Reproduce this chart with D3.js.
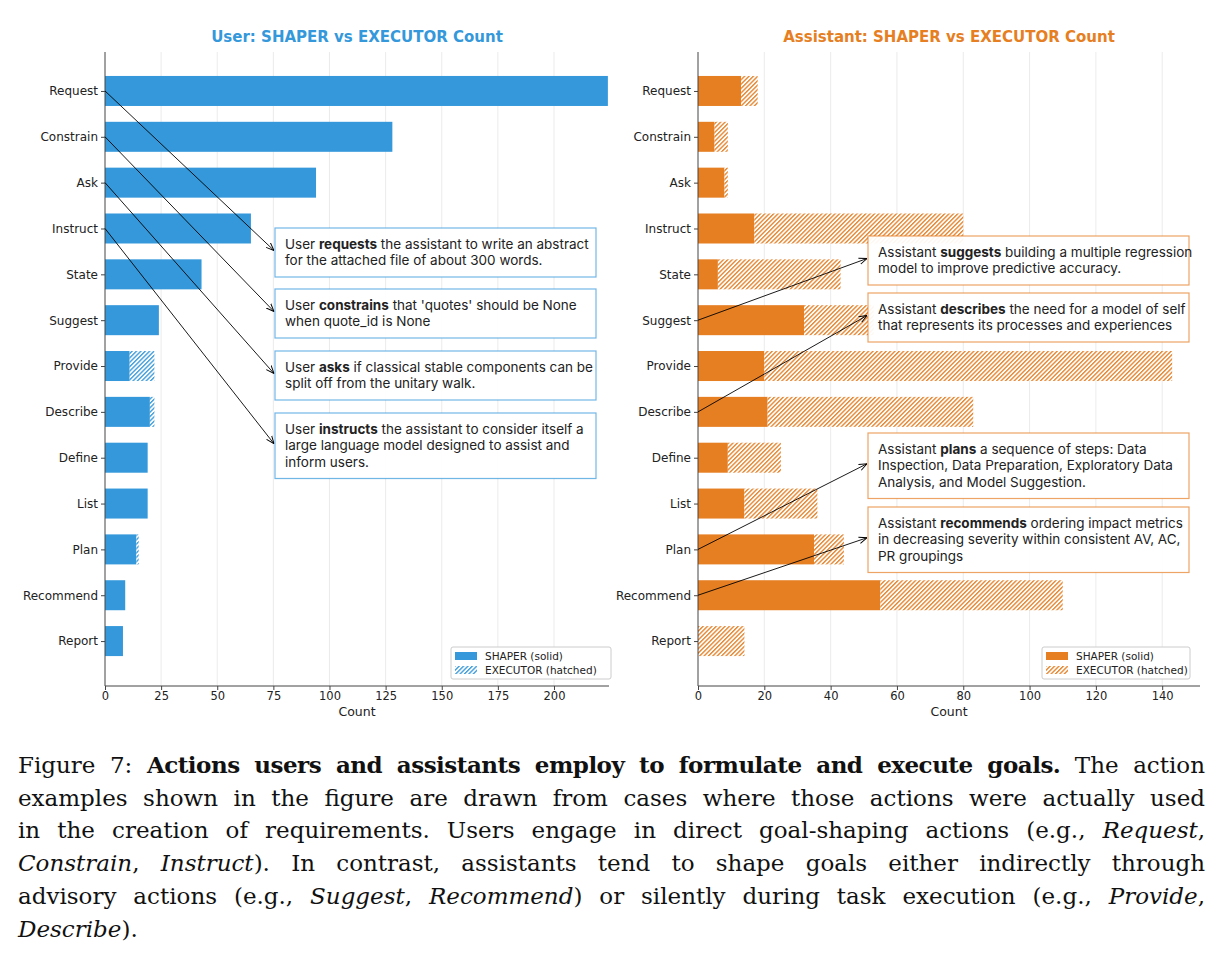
<!DOCTYPE html>
<meta charset="utf-8">
<style>
body { margin: 0; background: #fff; }
svg { position: absolute; left: 0; top: 0; }
.tick text { font-family: "DejaVu Sans", sans-serif; font-size: 12px; fill: #222; }
.xaxis .tick text { font-size: 11.5px; }
.axis path, .axis line { stroke: #444; }
.grid line { stroke: #e6e6e6; stroke-width: 0.8; }
.title { font-family: "DejaVu Sans", sans-serif; font-size: 15px; font-weight: bold; }
.xlabel { font-family: "DejaVu Sans", sans-serif; font-size: 12.5px; fill: #222; }
.note { font-family: Inter, sans-serif; font-size: 13.5px; fill: #222; }
.legend-text { font-family: "DejaVu Sans", sans-serif; font-size: 10.5px; fill: #222; }
.arrow { fill: none; stroke: #000; stroke-width: 0.9; }
#caption {
  position: absolute; left: 18px; top: 749px; width: 1187px;
  font-family: "DejaVu Serif", serif; font-size: 23px; line-height: 32.7px; color: #111;
}
#caption div { text-align: justify; text-align-last: justify; white-space: nowrap; }
#caption div.last { text-align-last: left; }
#caption b { letter-spacing: -0.5px; }
</style>
<svg width="1224" height="962"></svg>
<div id="caption">
  <div>Figure 7: <b>Actions users and assistants employ to formulate and execute goals.</b> The action</div>
  <div>examples shown in the figure are drawn from cases where those actions were actually used</div>
  <div>in the creation of requirements. Users engage in direct goal-shaping actions (e.g., <i>Request</i>,</div>
  <div><i>Constrain</i>, <i>Instruct</i>). In contrast, assistants tend to shape goals either indirectly through</div>
  <div>advisory actions (e.g., <i>Suggest</i>, <i>Recommend</i>) or silently during task execution (e.g., <i>Provide</i>,</div>
  <div class="last"><i>Describe</i>).</div>
</div>

<script src="https://d3js.org/d3.v7.min.js"></script>
<script>

var categories = ["Request", "Constrain", "Ask", "Instruct", "State", "Suggest", "Provide",
                  "Describe", "Define", "List", "Plan", "Recommend", "Report"];

var userShaper   = [224, 128, 94, 65, 43, 24, 11, 20, 19, 19, 14, 9, 8];
var userExecutor = [0, 0, 0, 0, 0, 0, 11, 2, 0, 0, 1, 0, 0];

var asstShaper   = [13, 5, 8, 17, 6, 32, 20, 21, 9, 14, 35, 55, 0];
var asstExecutor = [5, 4, 1, 63, 37, 21, 123, 62, 16, 22, 9, 55, 14];

var userTicks = [0, 25, 50, 75, 100, 125, 150, 175, 200];
var asstTicks = [0, 20, 40, 60, 80, 100, 120, 140];

// example notes: [category, lines], each line is [plain, bold, plain]
var userNotes = [
  ["Request", [["User ", "requests", " the assistant to write an abstract"], ["for the attached file of about 300 words."]]],
  ["Constrain", [["User ", "constrains", " that 'quotes' should be None"], ["when quote_id is None"]]],
  ["Ask", [["User ", "asks", " if classical stable components can be"], ["split off from the unitary walk."]]],
  ["Instruct", [["User ", "instructs", " the assistant to consider itself a"], ["large language model designed to assist and"], ["inform users."]]]
];
var asstNotes = [
  ["Suggest", [["Assistant ", "suggests", " building a multiple regression"], ["model to improve predictive accuracy."]]],
  ["Describe", [["Assistant ", "describes", " the need for a model of self"], ["that represents its processes and experiences"]]],
  ["Plan", [["Assistant ", "plans", " a sequence of steps: Data"], ["Inspection, Data Preparation, Exploratory Data"], ["Analysis, and Model Suggestion."]]],
  ["Recommend", [["Assistant ", "recommends", " ordering impact metrics"], ["in decreasing severity within consistent AV, AC,"], ["PR groupings"]]]
];

var svg = d3.select("svg");
var defs = svg.append("defs");

function hatch(id, color) {
  var s = 3.1;
  var p = defs.append("pattern")
      .attr("id", id)
      .attr("patternUnits", "userSpaceOnUse")
      .attr("width", s).attr("height", s)
      .attr("patternTransform", "rotate(45)");
  p.append("rect").attr("width", s).attr("height", s).attr("fill", "#fff");
  p.append("line").attr("x1", 0.7).attr("y1", 0).attr("x2", 0.7).attr("y2", s)
      .attr("stroke", color).attr("stroke-width", 1.3);
}

defs.append("marker")
    .attr("id", "head")
    .attr("viewBox", "0 0 10 10")
    .attr("refX", 10).attr("refY", 5)
    .attr("markerWidth", 8).attr("markerHeight", 8)
    .attr("markerUnits", "userSpaceOnUse")
    .attr("orient", "auto")
  .append("path")
    .attr("d", "M0,1 L10,5 L0,9")
    .attr("fill", "none").attr("stroke", "#000").attr("stroke-width", 1.2);

var y = d3.scaleLinear().domain([-0.85, 12.98]).range([52, 686]);
var barH = 30;

function panel(opt) {
  var x = d3.scaleLinear().domain([0, opt.max]).range([opt.left, opt.right]);
  hatch(opt.id, opt.color);
  var g = svg.append("g");

  g.append("g").attr("class", "grid")
    .selectAll("line").data(opt.ticks.slice(1)).join("line")
      .attr("x1", x).attr("x2", x).attr("y1", 52).attr("y2", 686);

  var rows = categories.map(function(c, i) {
    return {cat: c, s: opt.shaper[i], e: opt.executor[i]};
  });

  g.selectAll(".solid").data(rows).join("rect")
      .attr("x", x(0))
      .attr("y", function(d) { return y(categories.indexOf(d.cat)) - barH / 2; })
      .attr("width", function(d) { return x(d.s) - x(0); })
      .attr("height", barH)
      .attr("fill", opt.color);

  g.selectAll(".hatched").data(rows.filter(function(d) { return d.e > 0; })).join("rect")
      .attr("x", function(d) { return x(d.s); })
      .attr("y", function(d) { return y(categories.indexOf(d.cat)) - barH / 2; })
      .attr("width", function(d) { return x(d.s + d.e) - x(d.s); })
      .attr("height", barH)
      .attr("fill", "url(#" + opt.id + ")");

  g.append("g").attr("class", "axis xaxis")
      .attr("transform", "translate(0,686)")
      .call(d3.axisBottom(x).tickValues(opt.ticks).tickSize(4).tickPadding(1.5))
      .call(function(a) { a.select(".domain").attr("d", "M" + opt.left + ",0H" + opt.right); });

  g.append("g").attr("class", "axis")
      .attr("transform", "translate(" + opt.left + ",0)")
      .call(d3.axisLeft(y).tickValues(d3.range(categories.length))
            .tickFormat(function(i) { return categories[i]; }).tickSize(4).tickPadding(3))
      .call(function(a) { a.select(".domain").attr("d", "M0,52V686"); });

  g.append("text").attr("class", "title")
      .attr("x", (opt.left + opt.right) / 2).attr("y", 42)
      .attr("text-anchor", "middle").attr("fill", opt.color)
      .text(opt.title);

  g.append("text").attr("class", "xlabel")
      .attr("x", (opt.left + opt.right) / 2).attr("y", 716)
      .attr("text-anchor", "middle").text("Count");

  // notes with arrows
  var lh = 16.5, pad = 8;
  opt.notes.forEach(function(n, k) {
    var top = opt.boxTops[k];
    var h = pad * 2 + n[1].length * lh;
    var cy = y(categories.indexOf(n[0]));
    g.append("line").attr("class", "arrow")
        .attr("x1", x(0)).attr("y1", cy)
        .attr("x2", opt.boxX - 1).attr("y2", top + h / 2 - 2)
        .attr("marker-end", "url(#head)");
    g.append("rect")
        .attr("x", opt.boxX).attr("y", top)
        .attr("width", 321).attr("height", h)
        .attr("fill", "#fff").attr("fill-opacity", 0.93)
        .attr("stroke", opt.color).attr("stroke-opacity", 0.7).attr("stroke-width", 1.2);
    var t = g.append("text").attr("class", "note");
    n[1].forEach(function(line, j) {
      var ts = t.append("tspan").attr("x", opt.boxX + 10).attr("y", top + pad + 12.5 + j * lh);
      ts.text(line[0]);
      if (line.length > 1) {
        t.append("tspan").attr("font-weight", "bold").text(line[1]);
        t.append("tspan").text(line[2]);
      }
    });
  });

  // legend
  var lg = g.append("g").attr("transform", "translate(" + opt.legX + ",647)");
  lg.append("rect").attr("width", opt.legW).attr("height", 32)
      .attr("fill", "#fff").attr("stroke", "#ccc").attr("rx", 2);
  lg.append("rect").attr("x", 4).attr("y", 5).attr("width", 22).attr("height", 8).attr("fill", opt.color);
  lg.append("rect").attr("x", 4).attr("y", 19).attr("width", 22).attr("height", 8).attr("fill", "url(#" + opt.id + ")");
  lg.append("text").attr("class", "legend-text").attr("x", 34).attr("y", 13).text("SHAPER (solid)");
  lg.append("text").attr("class", "legend-text").attr("x", 34).attr("y", 27).text("EXECUTOR (hatched)");
}

panel({
  id: "hatchBlue", color: "#3498db", title: "User: SHAPER vs EXECUTOR Count",
  left: 105, right: 609, max: 224.5, ticks: userTicks,
  shaper: userShaper, executor: userExecutor,
  notes: userNotes, boxX: 275, boxTops: [228, 289, 351, 413],
  legX: 451, legW: 160
});

panel({
  id: "hatchOrange", color: "#e67e22", title: "Assistant: SHAPER vs EXECUTOR Count",
  left: 698, right: 1200, max: 151.4, ticks: asstTicks,
  shaper: asstShaper, executor: asstExecutor,
  notes: asstNotes, boxX: 868, boxTops: [236, 293, 433, 507],
  legX: 1042, legW: 148
});

</script>
